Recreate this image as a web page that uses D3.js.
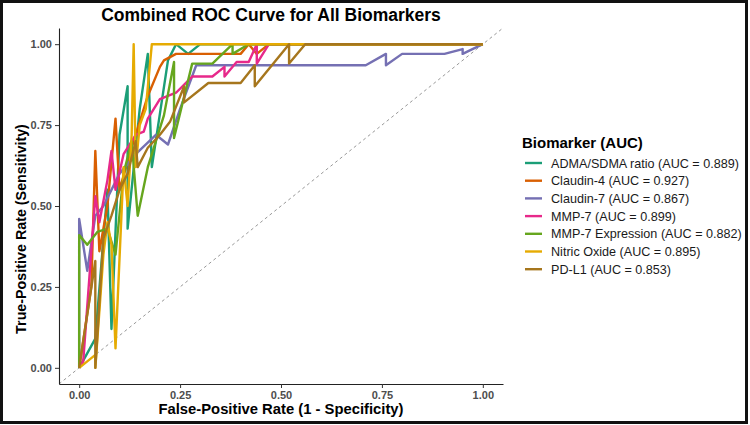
<!DOCTYPE html>
<html>
<head>
<meta charset="utf-8">
<script src="https://cdn.jsdelivr.net/npm/d3@7"></script>
<style>
body{margin:0;background:#fff;}
text{font-family:"Liberation Sans",Arial,sans-serif;}
</style>
</head>
<body>
<svg id="chart"></svg>
<script>
// series names, AUC values, colours (ggplot Dark2)
const biomarkers = ["ADMA/SDMA ratio","Claudin-4","Claudin-7","MMP-7","MMP-7 Expression","Nitric Oxide","PD-L1"];
const aucValues = [0.889,0.927,0.867,0.899,0.882,0.895,0.853];
const colors = ["#1B9E77","#D95F02","#7570B3","#E7298A","#66A61E","#E6AB02","#A6761D"];
const axisTicks = [0,0.25,0.5,0.75,1];

// [fpr, tpr] points
const roc_adma = [[0,0],[0.04,0.09],[0.07,0.55],[0.08,0.12],[0.10,0.72],[0.12,0.87],[0.12,0.43],[0.15,0.80],[0.17,0.97],[0.18,0.62],[0.22,0.95],[0.24,1.0],[0.27,0.97],[0.30,1.0],[1,1]];
const roc_claudin4 = [[0,0],[0.03,0.25],[0.04,0.67],[0.05,0.36],[0.07,0.50],[0.09,0.77],[0.10,0.55],[0.13,0.68],[0.15,0.76],[0.17,0.84],[0.20,0.93],[0.21,0.95],[0.24,0.97],[0.40,0.97],[0.42,1.0],[0.44,0.97],[0.47,1.0],[1,1]];
const roc_claudin7 = [[0,0],[0,0.46],[0.02,0.30],[0.04,0.47],[0.06,0.50],[0.10,0.60],[0.14,0.66],[0.19,0.72],[0.22,0.69],[0.25,0.80],[0.29,0.935],[0.71,0.935],[0.76,0.97],[0.76,0.935],[0.80,0.97],[0.905,0.97],[0.95,0.985],[0.95,0.97],[1,1]];
const roc_mmp7 = [[0,0],[0.01,0.02],[0.04,0.53],[0.05,0.45],[0.07,0.58],[0.08,0.67],[0.09,0.55],[0.11,0.66],[0.14,0.72],[0.16,0.73],[0.17,0.77],[0.20,0.83],[0.24,0.85],[0.28,0.90],[0.33,0.90],[0.36,0.93],[0.36,0.90],[0.39,0.945],[0.42,0.945],[0.44,1.0],[0.44,0.94],[0.47,1.0],[1,1]];
const roc_mmp7expr = [[0,0],[0,0.41],[0.02,0.38],[0.045,0.42],[0.07,0.43],[0.09,0.35],[0.11,0.60],[0.13,0.70],[0.145,0.47],[0.17,0.62],[0.21,0.78],[0.235,0.945],[0.235,0.71],[0.28,0.94],[0.33,0.94],[0.38,1.0],[0.38,0.97],[0.42,1.0],[1,1]];
const roc_nitric = [[0,0],[0.04,0.04],[0.04,0.0],[0.06,0.35],[0.07,0.45],[0.08,0.38],[0.09,0.06],[0.11,0.62],[0.12,0.50],[0.13,0.72],[0.135,1.0],[0.14,0.62],[0.15,0.75],[0.165,0.80],[0.18,1.0],[1,1]];
const roc_pdl1 = [[0,0],[0.04,0.33],[0.04,0.0],[0.06,0.40],[0.08,0.47],[0.10,0.55],[0.12,0.60],[0.14,0.70],[0.145,0.62],[0.17,0.68],[0.20,0.72],[0.225,0.76],[0.26,0.87],[0.26,0.82],[0.32,0.88],[0.40,0.88],[0.435,0.935],[0.435,0.87],[0.52,1.0],[0.52,0.94],[0.56,1.0],[1,1]];

const rocData = [roc_adma,roc_claudin4,roc_claudin7,roc_mmp7,roc_mmp7expr,roc_nitric,roc_pdl1];

class draw_roc{
    constructor(config){
        this.config = config;
        this.init();
    }
    init(){
        let self = this;
        self.svg = d3.select(self.config.parent)
            .attr("width",self.config.width)
            .attr("height",self.config.height)
        self.x = d3.scaleLinear().domain([-0.05,1.05]).range([59,503])
        self.y = d3.scaleLinear().domain([-0.05,1.05]).range([384,28])
    }
    render(){
        let self = this;
        const x = self.x, y = self.y;

        // outer frame
        self.svg.append("rect")
            .attr("x",1.5).attr("y",1.5)
            .attr("width",self.config.width-5).attr("height",self.config.height-4)
            .style("fill","none").style("stroke","#111").style("stroke-width",3)

        self.svg.append("text")
            .attr("x",271).attr("y",21)
            .attr("text-anchor","middle")
            .style("font-weight","bold").style("font-size","17.5px")
            .text("Combined ROC Curve for All Biomarkers")

        // reference diagonal
        self.svg.append("line")
            .attr("x1",x(-0.05)).attr("y1",y(-0.05))
            .attr("x2",x(1.05)).attr("y2",y(1.05))
            .style("stroke","#8c8c8c").style("stroke-width",0.9)
            .style("stroke-dasharray","3,3")

        const line = d3.line().x(d=>x(d[0])).y(d=>y(d[1]))
        self.svg.append("g").selectAll("path")
            .data(rocData)
            .join("path")
            .attr("d",line)
            .style("fill","none")
            .style("stroke",(d,i)=>colors[i])
            .style("stroke-width",2.4)
            .style("stroke-linejoin","round")

        const xAxis = self.svg.append("g")
            .attr("transform","translate(0,384)")
            .call(d3.axisBottom(x).tickValues(axisTicks).tickFormat(d3.format(".2f")).tickSize(4).tickSizeOuter(0).tickPadding(3))
        const yAxis = self.svg.append("g")
            .attr("transform","translate(59,0)")
            .call(d3.axisLeft(y).tickValues(axisTicks).tickFormat(d3.format(".2f")).tickSize(4).tickSizeOuter(0).tickPadding(3))
        for(const ax of [xAxis,yAxis]){
            ax.select(".domain").style("stroke","#222").style("stroke-width",1.1)
            ax.selectAll(".tick line").style("stroke","#333")
            ax.selectAll(".tick text")
                .style("fill","#4d4d4d").style("font-weight","bold")
                .style("font-size","11px").style("font-family","'Liberation Sans',Arial,sans-serif")
        }

        self.svg.append("text")
            .attr("x",281).attr("y",414)
            .attr("text-anchor","middle")
            .style("font-weight","bold").style("font-size","14.8px")
            .text("False-Positive Rate (1 - Specificity)")
        self.svg.append("text")
            .attr("transform","translate(26,229) rotate(-90)")
            .attr("text-anchor","middle")
            .style("font-weight","bold").style("font-size","14.3px")
            .text("True-Positive Rate (Sensitivity)")

        // legend
        const legend = self.svg.append("g").attr("transform","translate(522,0)")
        legend.append("text")
            .attr("x",0).attr("y",148)
            .style("font-weight","bold").style("font-size","15px")
            .text("Biomarker (AUC)")
        const items = legend.selectAll(".item")
            .data(biomarkers)
            .join("g")
            .attr("class","item")
            .attr("transform",(d,i)=>`translate(0,${163+i*17.7})`)
        items.append("line")
            .attr("x1",3).attr("x2",20)
            .style("stroke",(d,i)=>colors[i]).style("stroke-width",2.4)
        items.append("text")
            .attr("x",29).attr("y",4.5)
            .style("font-size","12.6px").style("fill","#1a1a1a")
            .text((d,i)=>`${d} (AUC = ${d3.format(".3f")(aucValues[i])})`)
    }
}

const chart = new draw_roc({parent:"#chart",width:750,height:425})
chart.render()
</script>
</body>
</html>
